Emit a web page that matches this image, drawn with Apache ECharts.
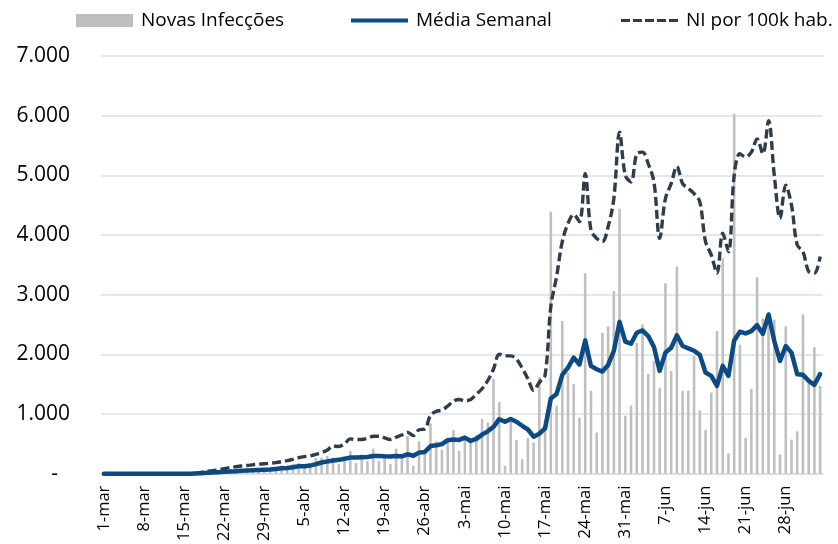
<!DOCTYPE html>
<html>
<head>
<meta charset="utf-8">
<script src="https://cdn.jsdelivr.net/npm/echarts@6/dist/echarts.min.js"></script>
<style>
  html, body { margin: 0; padding: 0; background: #fff; }
  #chart { width: 838px; height: 544px; }
</style>
</head>
<body>
<div id="chart"></div>
<script>
// dias (1-mar a 4-jul)
const dias = [
  '1-mar','2-mar','3-mar','4-mar','5-mar','6-mar','7-mar','8-mar','9-mar','10-mar','11-mar','12-mar','13-mar','14-mar','15-mar','16-mar',
  '17-mar','18-mar','19-mar','20-mar','21-mar','22-mar','23-mar','24-mar','25-mar','26-mar','27-mar','28-mar','29-mar','30-mar','31-mar',
  '1-abr','2-abr','3-abr','4-abr','5-abr','6-abr','7-abr','8-abr','9-abr','10-abr','11-abr','12-abr','13-abr','14-abr','15-abr',
  '16-abr','17-abr','18-abr','19-abr','20-abr','21-abr','22-abr','23-abr','24-abr','25-abr','26-abr','27-abr','28-abr','29-abr','30-abr',
  '1-mai','2-mai','3-mai','4-mai','5-mai','6-mai','7-mai','8-mai','9-mai','10-mai','11-mai','12-mai','13-mai','14-mai','15-mai','16-mai',
  '17-mai','18-mai','19-mai','20-mai','21-mai','22-mai','23-mai','24-mai','25-mai','26-mai','27-mai','28-mai','29-mai','30-mai','31-mai',
  '1-jun','2-jun','3-jun','4-jun','5-jun','6-jun','7-jun','8-jun','9-jun','10-jun','11-jun','12-jun','13-jun','14-jun','15-jun',
  '16-jun','17-jun','18-jun','19-jun','20-jun','21-jun','22-jun','23-jun','24-jun','25-jun','26-jun','27-jun','28-jun','29-jun','30-jun',
  '1-jul','2-jul','3-jul','4-jul'
]

// novas infecções (barras)
const novasInfeccoes = [
  0, 0, 0, 0, 0, 0, 0, 0, 0, 0, 0, 1, 1, 2, 3, 3,
  8, 30, 40, 35, 45, 60, 55, 50, 65, 70, 60, 75, 90, 80, 110,
  140, 100, 160, 180, 120, 150, 260, 270, 300, 270, 160, 210, 380, 180, 320,
  210, 420, 210, 300, 160, 420, 320, 630, 130, 540, 350, 840, 540, 400, 560,
  730, 380, 570, 570, 650, 920, 860, 1590, 1200, 130, 950, 560, 240, 600, 520, 1620,
  900, 4390, 1140, 2560, 1690, 1500, 940, 3360, 1390, 690, 2360, 2470, 3060, 4440, 970,
  1140, 2190, 2500, 1670, 1890, 1440, 3190, 1720, 3470, 1390, 1390, 1970, 1060, 730, 1360,
  2390, 3610, 340, 6030, 2160, 600, 1420, 3290, 2600, 2580, 2580, 320, 2470, 570, 710,
  2670, 1580, 2120, 1470
]

// média semanal
const mediaSemanal = [
  0, 0, 0, 0, 0, 0, 0, 0, 0, 0, 0, 0, 0, 0, 0, 0,
  3, 8, 14, 19, 24, 30, 35, 40, 49, 54, 58, 62, 67, 70, 79,
  89, 93, 106, 123, 125, 135, 159, 187, 205, 220, 231, 250, 269, 272, 275,
  280, 297, 297, 290, 286, 297, 290, 324, 300, 352, 363, 462, 475, 495, 560,
  571, 565, 604, 548, 582, 654, 709, 785, 912, 870, 915, 870, 802, 740, 620, 670,
  760, 1260, 1335, 1656, 1778, 1944, 1830, 2233, 1806, 1750, 1711, 1822, 2056, 2544, 2211,
  2178, 2361, 2400, 2306, 2122, 1722, 2028, 2111, 2317, 2139, 2100, 2060, 1990, 1694, 1639,
  1472, 1806, 1639, 2233, 2378, 2350, 2389, 2489, 2344, 2667, 2222, 1889, 2139, 2028, 1667,
  1656, 1556, 1489, 1667
]

// NI por 100k hab.
const niPor100k = [
  0, 0, 0, 0, 0, 0, 0, 0, 0, 0, 0, 0, 0, 0, 0, 0,
  6, 20, 40, 50, 62, 84, 100, 115, 128, 137, 148, 158, 165, 175, 185,
  200, 218, 240, 268, 286, 297, 324, 352, 396, 462, 456, 500, 582, 571, 571,
  593, 626, 626, 599, 571, 610, 648, 692, 637, 736, 747, 978, 1044, 1066, 1132,
  1214, 1242, 1220, 1242, 1330, 1423, 1561, 1753, 2000, 1973, 1973, 1920, 1770, 1590, 1396, 1530,
  1650, 2800, 3300, 3889, 4194, 4344, 4222, 5028, 4083, 3944, 3889, 4139, 4611, 5722, 5000,
  4889, 5361, 5389, 5194, 4889, 3944, 4611, 4860, 5150, 4861, 4778, 4694, 4556, 3889, 3667,
  3361, 4030, 3720, 5000, 5361, 5306, 5389, 5611, 5361, 5917, 5000, 4278, 4833, 4500, 3833,
  3722, 3389, 3361, 3639
]

const yTicks = { min: 0, max: 7000, interval: 1000 }

const fonte = '"Open Sans", "Noto Sans", sans-serif'
const corGrade = '#dadee3'
const corMedia = '#0b4a82'
const corNI = '#2f3c49'

const chart = echarts.init(document.getElementById('chart'), null, { renderer: 'canvas' })

const legendaBase = {
  top: 6,
  itemHeight: 13,
  itemWidth: 57,
  textStyle: { fontFamily: fonte, fontSize: 19, color: '#000', padding: [0, 0, 0, 3] },
  selectedMode: false
}

chart.setOption({
  animation: false,
  backgroundColor: '#fff',
  legend: [
    Object.assign({}, legendaBase, { left: 71, data: [{ name: 'Novas Infecções', icon: 'rect' }] }),
    Object.assign({}, legendaBase, {
      left: 346,
      itemHeight: 4.5,
      data: [{ name: 'Média Semanal', icon: 'path://M0,0H57V4H0Z' }]
    }),
    Object.assign({}, legendaBase, {
      left: 616,
      itemHeight: 3.4,
      data: [{
        name: 'NI por 100k hab.',
        icon: 'path://M0,0h9v3h-9zM12,0h9v3h-9zM24,0h9v3h-9zM36,0h9v3h-9zM48,0h9v3h-9z'
      }]
    })
  ],
  grid: {
    left: 101,
    right: 15,
    top: 56,
    bottom: 70
  },
  xAxis: {
    type: 'category',
    data: dias,
    boundaryGap: true,
    axisLine: { show: true, lineStyle: { color: corGrade, width: 1.5 } },
    axisTick: { show: false },
    axisLabel: {
      interval: 6,
      rotate: 90,
      margin: 12,
      fontFamily: fonte,
      fontSize: 16.5,
      color: '#000'
    }
  },
  yAxis: {
    type: 'value',
    min: yTicks.min,
    max: yTicks.max,
    interval: yTicks.interval,
    axisLine: { show: false },
    axisTick: { show: false },
    splitLine: { show: true, lineStyle: { color: corGrade, width: 1.5 } },
    axisLabel: {
      margin: 31,
      fontFamily: fonte,
      fontSize: 21,
      color: '#000',
      formatter: v => v === 0 ? '{d|-}' : (v / 1000) + '.000',
      rich: {
        d: { fontFamily: fonte, fontSize: 21, color: '#000', padding: [0, 12, 0, 0] }
      }
    }
  },
  series: [
    {
      name: 'Novas Infecções',
      type: 'bar',
      data: novasInfeccoes,
      barWidth: '45%',
      itemStyle: { color: '#bfbfbf' },
      z: 1
    },
    {
      name: 'NI por 100k hab.',
      type: 'line',
      data: niPor100k,
      symbol: 'none',
      smooth: 0.35,
      itemStyle: { color: corNI },
      lineStyle: { color: corNI, width: 3.4, type: [9, 4] },
      z: 3
    },
    {
      name: 'Média Semanal',
      type: 'line',
      data: mediaSemanal,
      symbol: 'none',
      itemStyle: { color: corMedia },
      lineStyle: { color: corMedia, width: 4.5, join: 'round', cap: 'round' },
      z: 4
    }
  ]
})
</script>
</body>
</html>
